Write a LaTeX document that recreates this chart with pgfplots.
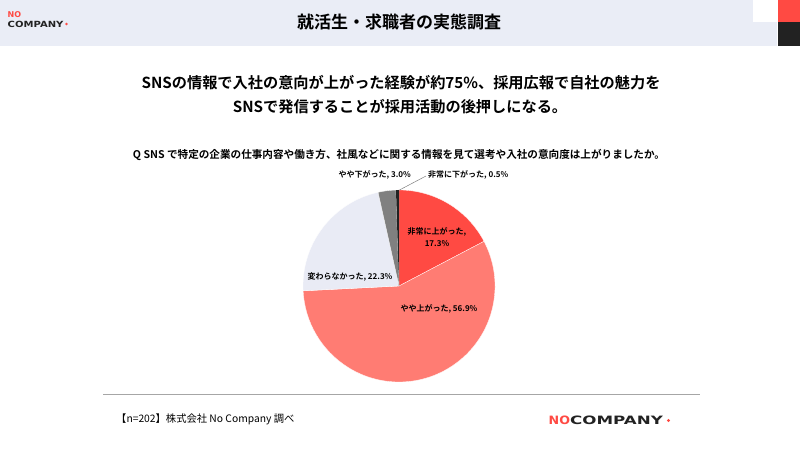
\documentclass[border=0pt]{standalone}
\usepackage{pgfplots}
\pgfplotsset{compat=1.18}
\usepackage{pgfplotstable}
\usepackage{graphicx}
\usepackage{fontspec}
\setmainfont{Noto Sans CJK JP}[BoldFont={Noto Sans CJK JP Bold}]
\newfontfamily\logofont{DejaVu Sans}
\definecolor{hdr}{HTML}{EAEDF6}
\definecolor{cA}{HTML}{FF4A43}
\definecolor{cB}{HTML}{FF7C73}
\definecolor{cC}{HTML}{E9EBF5}
\definecolor{cD}{HTML}{808080}
\definecolor{cE}{HTML}{222222}
\definecolor{logored}{HTML}{FF4A43}
\definecolor{dk}{HTML}{222222}
\pgfplotstableread{
share
17.3
56.9
22.3
3.0
0.5
}\piedata
\pgfplotstablegetelem{0}{share}\of\piedata\let\vA\pgfplotsretval
\pgfplotstablegetelem{1}{share}\of\piedata\let\vB\pgfplotsretval
\pgfplotstablegetelem{2}{share}\of\piedata\let\vC\pgfplotsretval
\pgfplotstablegetelem{3}{share}\of\piedata\let\vD\pgfplotsretval
\pgfplotstablegetelem{4}{share}\of\piedata\let\vE\pgfplotsretval
\pgfmathsetmacro\aA{90}
\pgfmathsetmacro\aB{\aA-3.6*\vA}
\pgfmathsetmacro\aC{\aB-3.6*\vB}
\pgfmathsetmacro\aD{\aC-3.6*\vC}
\pgfmathsetmacro\aE{\aD-3.6*\vD}
\pgfmathsetmacro\aF{\aE-3.6*\vE}
\begin{document}%
\begin{tikzpicture}[x=1pt,y=1pt]
\fill[white] (0,0) rectangle (800,449);
% header
\fill[hdr] (0,403) rectangle (777,449);
\fill[white] (753,427) rectangle (777.5,449);
\fill[cA] (778,427) rectangle (800,449);
\fill[dk] (778,403) rectangle (800,427);
\node[font=\fontsize{17}{19}\selectfont\bfseries] at (399,427) {就活生・求職者の実態調査};
% top-left logo
\node[anchor=west, text=logored, font=\logofont\fontsize{8}{8}\selectfont\bfseries, inner sep=0] at (7.5,434) {NO};
\node[anchor=west, text=dk, font=\logofont\fontsize{8.5}{8}\selectfont\bfseries, inner sep=0] at (7.5,425) {\scalebox{1.18}[1]{COMPANY}};
\fill[logored] (66.5,425) circle (1.3);
% headline
\node[font=\fontsize{15.2}{17}\selectfont\bfseries] at (401,366) {SNSの情報で入社の意向が上がった経験が約75\%、採用広報で自社の魅力を};
\node[font=\fontsize{15.2}{17}\selectfont\bfseries] at (400,342) {SNSで発信することが採用活動の後押しになる。};
% question
\node[font=\fontsize{10.6}{12}\selectfont\bfseries] at (399,294) {Q SNS で特定の企業の仕事内容や働き方、社風などに関する情報を見て選考や入社の意向度は上がりましたか。};
% pie
\begin{axis}[at={(399pt,163pt)}, anchor=center, x=96pt, y=96pt,
  xmin=-1, xmax=1, ymin=-1, ymax=1, hide axis, clip=false, scale only axis]
\addplot[draw=none] coordinates {(0,0)};
\fill[cA, draw=white, line width=0.3pt] (axis cs:0,0) -- +(\aA:96pt) arc[start angle=\aA, end angle=\aB, radius=96pt] -- cycle;
\fill[cB, draw=white, line width=0.3pt] (axis cs:0,0) -- +(\aB:96pt) arc[start angle=\aB, end angle=\aC, radius=96pt] -- cycle;
\fill[cC, draw=white, line width=0.3pt] (axis cs:0,0) -- +(\aC:96pt) arc[start angle=\aC, end angle=\aD, radius=96pt] -- cycle;
\fill[cD, draw=white, line width=0.3pt] (axis cs:0,0) -- +(\aD:96pt) arc[start angle=\aD, end angle=\aE, radius=96pt] -- cycle;
\fill[cE] (axis cs:0,0) -- +(\aE:96pt) arc[start angle=\aE, end angle=\aF, radius=96pt] -- cycle;
\end{axis}
% pie labels
\draw[gray, line width=0.5pt] (399.5,259) -- (426,273);
\begin{scope}[every node/.style={font=\fontsize{8}{9}\selectfont\bfseries, inner sep=0}]
\node[anchor=east] at (411,274) {やや下がった, 3.0\%};
\node[anchor=west] at (428,274) {非常に下がった, 0.5\%};
\node at (437,217) {非常に上がった,};
\node at (437,205) {17.3\%};
\node at (350,172) {変わらなかった, 22.3\%};
\node at (439,140) {やや上がった, 56.9\%};
\end{scope}
% footer
\draw[gray!70, line width=0.8pt] (103,55) -- (700,55);
\node[anchor=west, font=\fontsize{10.3}{12}\selectfont, inner sep=0] at (116,30) {【n=202】株式会社 No Company 調べ};
\node[anchor=west, text=logored, font=\logofont\fontsize{11.5}{11}\selectfont\bfseries, inner sep=0] at (548.5,28.5) {\scalebox{1.1}[1]{NO}};
\node[anchor=west, text=dk, font=\logofont\fontsize{11.5}{11}\selectfont\bfseries, inner sep=0] at (570,28.5) {\scalebox{1.45}[1]{COMPANY}};
\fill[logored] (668.5,28.5) circle (1.6);
\end{tikzpicture}%
\end{document}
